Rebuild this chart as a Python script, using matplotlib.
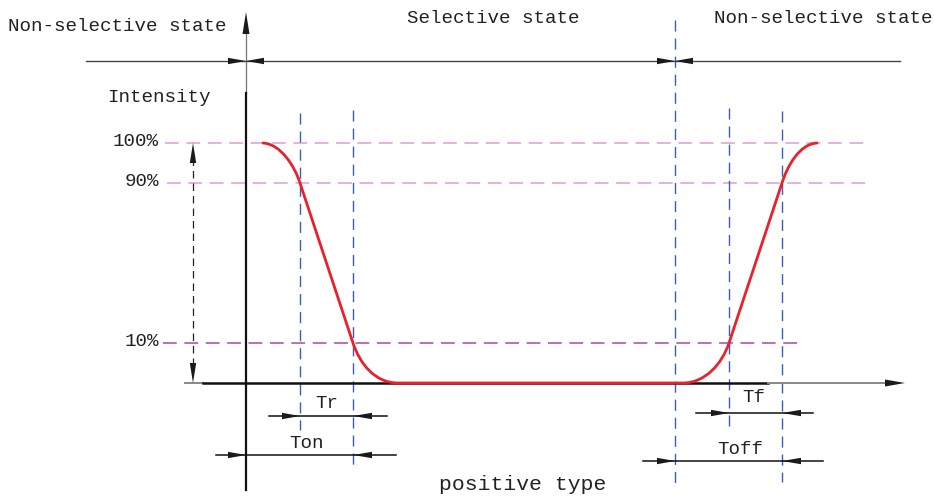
import matplotlib
matplotlib.use("Agg")
import matplotlib.pyplot as plt
from matplotlib.path import Path
from matplotlib.patches import PathPatch

# ---- diagram data (pixel-space diagram units) ----
level_labels = ["100%", "90%", "10%"]
level_y = [143, 183, 343]
level_x0 = [165, 167, 163]
level_x1 = [868, 868, 797]
level_colors = ["#dc9ed8", "#dc9ed8", "#b0469e"]

baseline_y = 383
yaxis_x = 246
state_y = 61
state_switch_x = [246, 675]

# key time markers (vertical dashed lines): x, top, bottom
marker_x = [300, 353, 675, 729, 782]
marker_top = [113, 110, 20, 108, 111]
marker_bot = [430, 470, 483, 428, 482]

# response curve (fall then rise) key points
fall_x = [263, 300, 353, 398]
fall_y = [143, 183, 343, 383]
rise_x = [683, 729, 782, 817]
rise_y = [383, 343, 183, 143]

# dimension annotations: label, y, line x0, x1, left tip, right tip, text x, text y
dim_labels = ["Tr", "Ton", "Tf", "Toff"]
dim_y = [416, 455, 413, 461]
dim_x0 = [269, 216, 696, 643]
dim_x1 = [387, 396, 813, 823]
dim_left = [300, 246, 729, 675]
dim_right = [353, 353, 782, 782]
dim_tx = [327, 307, 754, 740]
dim_ty = [403, 443, 397, 449]

FONT = "Liberation Mono"
FS = 13.8

fig = plt.figure(figsize=(9.34, 4.99), dpi=100)
ax = fig.add_axes([0, 0, 1, 1])
ax.set_xlim(0, 934)
ax.set_ylim(499, 0)
ax.axis("off")


def tri(tip_x, tip_y, direction, length=18, half=3.2, color="#1a1a1a"):
    if direction == "right":
        xs = [tip_x, tip_x - length, tip_x - length]
        ys = [tip_y, tip_y - half, tip_y + half]
    elif direction == "left":
        xs = [tip_x, tip_x + length, tip_x + length]
        ys = [tip_y, tip_y - half, tip_y + half]
    elif direction == "up":
        xs = [tip_x, tip_x - half, tip_x + half]
        ys = [tip_y, tip_y + length, tip_y + length]
    else:
        xs = [tip_x, tip_x - half, tip_x + half]
        ys = [tip_y, tip_y - length, tip_y - length]
    ax.fill(xs, ys, color=color, lw=0, zorder=6)


# level dashed lines
for lab, y, x0, x1, c in zip(level_labels, level_y, level_x0, level_x1, level_colors):
    ax.plot([x0, x1], [y, y], color=c, lw=1.1, dashes=(9, 5), zorder=2)
    ax.text(159, y - 2, lab, ha="right", va="center", fontsize=FS, family=FONT, color="#222")

# vertical marker lines
for x, t, b in zip(marker_x, marker_top, marker_bot):
    ax.plot([x, x], [t, b], color="#3b5cc0", lw=1.0, dashes=(8, 5), zorder=3)

# axes
ax.plot([yaxis_x, yaxis_x], [30, 93], color="#777", lw=0.9, zorder=4)
ax.plot([yaxis_x, yaxis_x], [93, 490], color="#111", lw=1.6, zorder=4)
tri(yaxis_x, 12, "up", length=22, half=3.5)
ax.plot([185, 203], [baseline_y, baseline_y], color="#888", lw=1.4, zorder=4)
ax.plot([203, 768], [baseline_y, baseline_y], color="#111", lw=1.8, zorder=4)
ax.plot([768, 890], [baseline_y, baseline_y], color="#888", lw=1.4, zorder=4)
tri(905, baseline_y, "right", length=20, half=3.5)

# state line
ax.plot([86, 900], [state_y, state_y], color="#444", lw=1.0, zorder=4)
for sx in state_switch_x:
    tri(sx, state_y, "right", length=18, half=3.2)
    tri(sx, state_y, "left", length=18, half=3.2)

# intensity span double arrow
ax.plot([193, 193], [level_y[0] + 15, baseline_y - 15], color="#222", lw=0.9,
        dashes=(6, 4), zorder=4)
tri(193, level_y[0], "up", length=20, half=3.2)
tri(193, baseline_y, "down", length=20, half=3.2)

# response curve
verts = [
    (fall_x[0], fall_y[0]), (fall_x[0] + 18, fall_y[0] + 1), (fall_x[1] - 5, fall_y[1] - 16),
    (fall_x[1], fall_y[1]),
    (fall_x[2], fall_y[2]),
    (fall_x[2] + 7, fall_y[2] + 21), (fall_x[3] - 23, fall_y[3]), (fall_x[3], fall_y[3]),
    (rise_x[0], rise_y[0]),
    (rise_x[0] + 22, rise_y[0]), (rise_x[1] - 7, rise_y[1] + 21), (rise_x[1], rise_y[1]),
    (rise_x[2], rise_y[2]),
    (rise_x[2] + 5, rise_y[2] - 16), (rise_x[3] - 18, rise_y[3] + 1), (rise_x[3], rise_y[3]),
]
codes = [Path.MOVETO, Path.CURVE4, Path.CURVE4, Path.CURVE4, Path.LINETO,
         Path.CURVE4, Path.CURVE4, Path.CURVE4, Path.LINETO,
         Path.CURVE4, Path.CURVE4, Path.CURVE4, Path.LINETO,
         Path.CURVE4, Path.CURVE4, Path.CURVE4]
ax.add_patch(PathPatch(Path(verts, codes), fill=False, edgecolor="#e8212b",
                       lw=2.0, capstyle="round", zorder=5))

# dimension annotations
for lab, y, x0, x1, l, r, tx, ty in zip(dim_labels, dim_y, dim_x0, dim_x1,
                                         dim_left, dim_right, dim_tx, dim_ty):
    ax.plot([x0, x1], [y, y], color="#111", lw=1.1, zorder=4)
    tri(l, y, "right", length=18, half=3.2)
    tri(r, y, "left", length=19, half=3.2)
    ax.text(tx, ty, lab, ha="center", va="center", fontsize=FS, family=FONT, color="#222")

# titles
ax.text(8, 26, "Non-selective state", ha="left", va="center", fontsize=FS, family=FONT, color="#222")
ax.text(493, 18, "Selective state", ha="center", va="center", fontsize=FS, family=FONT, color="#222")
ax.text(932, 18, "Non-selective state", ha="right", va="center", fontsize=FS, family=FONT, color="#222")
ax.text(107, 97, "Intensity", ha="left", va="center", fontsize=FS, family=FONT, color="#222")
ax.text(523, 485, "positive type", ha="center", va="center", fontsize=15.4, family=FONT, color="#222")

fig.savefig("out.png", dpi=100)
